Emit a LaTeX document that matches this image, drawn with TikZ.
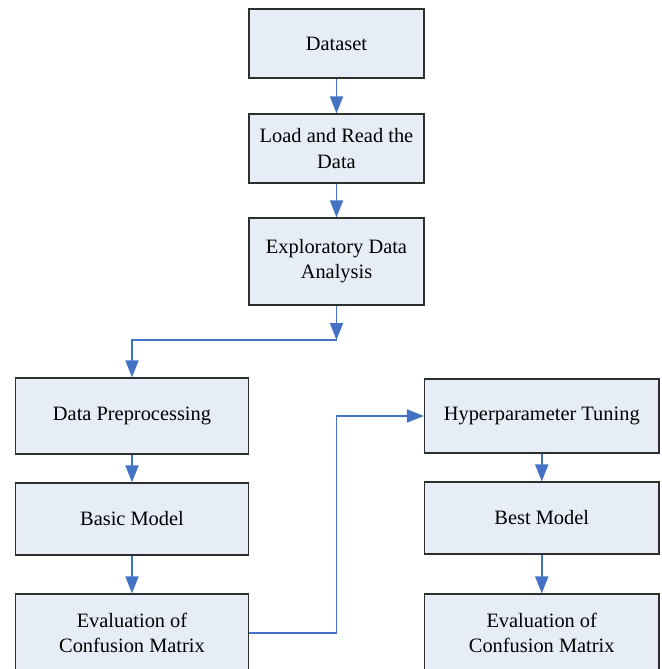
\documentclass[tikz,border=0pt]{standalone}
\usepackage{fontspec}
\setmainfont{Liberation Serif}
\usetikzlibrary{arrows.meta}
\definecolor{boxfill}{HTML}{E7EDF7}
\definecolor{boxline}{HTML}{2E2E2E}
\definecolor{flowblue}{HTML}{4472C4}

\begin{document}
\begin{tikzpicture}[x=0.5pt, y=-0.5pt,
    stepbox/.style={draw=boxline, fill=boxfill, line width=0.6pt, inner sep=0pt,
      align=center, font=\fontsize{10.2}{12.6}\selectfont},
    flow/.style={flowblue, line width=0.9pt, -{Triangle[width=6.5pt, length=8.5pt]}},
    flowline/.style={flowblue, line width=0.9pt}]

  % === Frame (picture is cut at the bottom) ===
  \useasboundingbox (0,0) rectangle (662,669);
  \clip (0,0) rectangle (662,669);

  \def\midX{336.5}    % centre of top column
  \def\leftX{132}     % centre of left column
  \def\rightX{541.75} % centre of right column

  % Top column
  \node[stepbox, minimum width=87.5pt, minimum height=34.5pt] (dataset) at (\midX, 43.5) {Dataset};
  \node[stepbox, minimum width=87.5pt, minimum height=34.5pt] (load) at (\midX, 148.5) {Load and Read the\\Data};
  \node[stepbox, minimum width=87.5pt, minimum height=43.5pt] (eda) at (\midX, 261.5) {Exploratory Data\\Analysis};

  % Left column
  \node[stepbox, minimum width=116.75pt, minimum height=38pt] (prep) at (\leftX, 416) {Data Preprocessing};
  \node[stepbox, minimum width=116.75pt, minimum height=36pt] (basic) at (\leftX, 519) {Basic Model};
  \node[stepbox, minimum width=116.75pt, minimum height=39pt] (evalA) at (\leftX, 633) {Evaluation of\\Confusion Matrix};

  % Right column
  \node[stepbox, minimum width=117.25pt, minimum height=37pt] (tuning) at (\rightX, 416) {Hyperparameter Tuning};
  \node[stepbox, minimum width=117.25pt, minimum height=36pt] (best) at (\rightX, 518) {Best Model};
  \node[stepbox, minimum width=117.25pt, minimum height=39pt] (evalB) at (\rightX, 633) {Evaluation of\\Confusion Matrix};

  % Bend points
  \coordinate (split) at (\midX, 340);
  \coordinate (jump) at (\midX, 633);

  % Connectors
  \draw[flow] (dataset) -- (load);
  \draw[flow] (load) -- (eda);
  \draw[flow] (eda) -- (split);
  \draw[flow] (split) -| (prep);
  \draw[flow] (prep) -- (basic);
  \draw[flow] (basic) -- (evalA);
  \draw[flowline] (evalA.east) -- (jump);
  \draw[flow] (jump) |- (tuning.west);
  \draw[flow] (tuning) -- (best);
  \draw[flow] (best) -- (evalB);

\end{tikzpicture}
\end{document}
